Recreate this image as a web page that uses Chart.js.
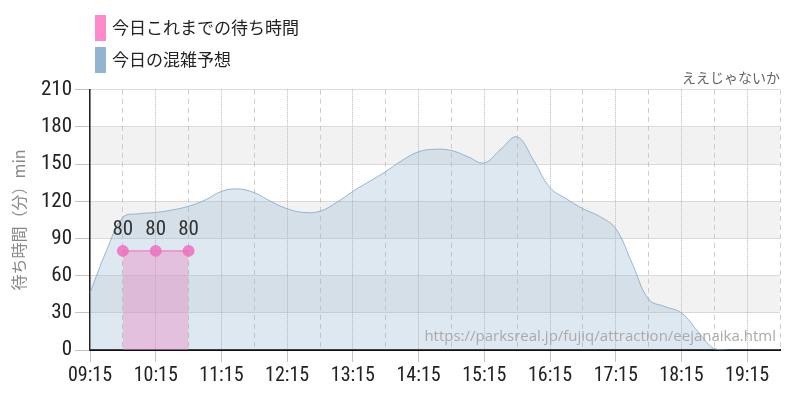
<!DOCTYPE html>
<html>
<head>
<meta charset="utf-8">
<script src="https://cdn.jsdelivr.net/npm/chart.js@4.4.0/dist/chart.umd.min.js"></script>
<style>
  html, body { margin: 0; padding: 0; background: #fff; }
  #wrap { width: 800px; height: 400px; }
</style>
</head>
<body>
<div id="wrap"><canvas id="chart"></canvas></div>
<script>
// 15 min steps, 09:15 - 19:45
const times = [
  '09:15','09:30','09:45','10:00','10:15','10:30','10:45','11:00',
  '11:15','11:30','11:45','12:00','12:15','12:30','12:45','13:00',
  '13:15','13:30','13:45','14:00','14:15','14:30','14:45','15:00',
  '15:15','15:30','15:45','16:00','16:15','16:30','16:45','17:00',
  '17:15','17:30','17:45','18:00','18:15','18:30','18:45','19:00',
  '19:15','19:30','19:45'
];
const forecast = [
  46, 80, 107, 110, 111, 113, 116, 121,
  128, 130, 127, 120, 114, 111, 112, 119,
  128, 136, 144, 153, 160, 162, 161, 156,
  151, 162, 172, 153, 131, 122, 114, 108,
  98, 70, 41, 35, 30, 15, 1, 0,
  0, 0, 0
];
const actual = [
  null, null, 80, null, 80, null, 80, null,
  null, null, null, null, null, null, null, null,
  null, null, null, null, null, null, null, null,
  null, null, null, null, null, null, null, null,
  null, null, null, null, null, null, null, null,
  null, null, null
];
const yTicks = [0, 30, 60, 90, 120, 150, 180, 210];
const bands = [[30, 60], [90, 120], [150, 180]];

const seriesNames = ['今日これまでの待ち時間', '今日の混雑予想'];
const legendColors = ['#ff8acb', '#92b4d0'];
const titleText = 'ええじゃないか';
const yTitle = '待ち時間（分）min';
const sourceText = 'https://parksreal.jp/fujiq/attraction/eejanaika.html';

const numFont = "'Roboto Condensed', 'Liberation Sans Narrow', 'DejaVu Sans Condensed', sans-serif";
const jpFont = "'Noto Sans CJK JP', sans-serif";

const bandsPlugin = {
  id: 'bands',
  beforeDraw(chart) {
    const {ctx, chartArea, scales} = chart;
    ctx.save();
    ctx.fillStyle = '#f2f2f2';
    bands.forEach(([a, b]) => {
      const y1 = scales.y.getPixelForValue(b);
      const y2 = scales.y.getPixelForValue(a);
      ctx.fillRect(chartArea.left, y1, chartArea.right - chartArea.left, y2 - y1);
    });
    ctx.restore();
  }
};

// stacked legend top-left (built-in legend won't wrap into a column here)
const stackLegend = {
  id: 'stackLegend',
  afterDraw(chart) {
    const {ctx} = chart;
    ctx.save();
    ctx.font = "17px " + jpFont;
    ctx.textAlign = 'left';
    ctx.textBaseline = 'middle';
    seriesNames.forEach((name, i) => {
      const top = 15 + i * 32;
      ctx.fillStyle = legendColors[i];
      ctx.fillRect(95, top, 11, 26);
      ctx.fillStyle = '#222';
      ctx.fillText(name, 112, top + 13);
    });
    ctx.restore();
  }
};

const labelsPlugin = {
  id: 'valueLabels',
  afterDatasetsDraw(chart) {
    const {ctx, chartArea} = chart;
    ctx.save();
    // source url
    ctx.font = "15px 'Open Sans', sans-serif";
    ctx.fillStyle = '#aaaaaa';
    ctx.textAlign = 'right';
    ctx.textBaseline = 'alphabetic';
    ctx.fillText(sourceText, chartArea.right - 4, chartArea.bottom - 9);
    // 80 labels above points
    const meta = chart.getDatasetMeta(0);
    ctx.font = '21px ' + numFont;
    ctx.fillStyle = '#333';
    ctx.textAlign = 'center';
    ctx.textBaseline = 'middle';
    meta.data.forEach((pt, i) => {
      const v = actual[i];
      if (v === null) return;
      ctx.fillText(String(v), pt.x, pt.y - 21);
    });
    ctx.restore();
  }
};

const hourTick = (i) => i % 4 === 0;
const halfTick = (i) => i % 4 === 2;

new Chart(document.getElementById('chart'), {
  type: 'line',
  data: {
    labels: times,
    datasets: [
      {
        label: seriesNames[0],
        data: actual,
        spanGaps: true,
        fill: 'origin',
        backgroundColor: 'rgba(233,135,192,0.42)',
        borderColor: '#f06cbf',
        borderWidth: 1,
        pointRadius: 6,
        pointBackgroundColor: 'rgba(240,110,190,0.85)',
        pointBorderWidth: 0,
        tension: 0
      },
      {
        label: seriesNames[1],
        data: forecast,
        fill: 'origin',
        backgroundColor: 'rgba(146,180,208,0.3)',
        borderColor: 'rgba(130,165,200,0.8)',
        borderWidth: 1,
        pointRadius: 0,
        tension: 0.4
      }
    ]
  },
  options: {
    responsive: true,
    maintainAspectRatio: false,
    animation: false,
    layout: { padding: { top: 69, right: 20, left: 0, bottom: 0 } },
    plugins: {
      legend: { display: false },
      title: {
        display: true,
        text: titleText,
        align: 'end',
        position: 'top',
        fullSize: false,
        color: '#666',
        font: { family: jpFont, size: 14, weight: 'normal' },
        padding: { top: 0, bottom: 4 }
      },
      tooltip: { enabled: false }
    },
    scales: {
      x: {
        type: 'category',
        offset: false,
        afterFit: (s) => { s.height = 50; },
        grid: {
          color: (c) => {
            if (c.type !== 'tick') return 'rgba(0,0,0,0)';
            if (hourTick(c.index)) return '#bbbbbb';
            if (halfTick(c.index)) return '#cccccc';
            return 'rgba(0,0,0,0)';
          },
          tickColor: (c) => (c.type === 'tick' && hourTick(c.index)) ? '#c4c4c4' : 'rgba(0,0,0,0)',
          tickLength: 12,
          lineWidth: 1
        },
        border: {
          display: true,
          color: '#111',
          width: 2,
          dash: (c) => {
            if (c.type !== 'tick') return [];
            return hourTick(c.index) ? [1, 1] : [5, 4];
          }
        },
        ticks: {
          autoSkip: false,
          maxRotation: 0,
          padding: 2,
          color: '#222',
          font: { family: numFont, size: 20 },
          callback: (v, i) => hourTick(i) ? times[i] : ''
        }
      },
      y: {
        min: 0,
        max: 210,
        afterFit: (s) => { s.width = 90; },
        afterBuildTicks: (s) => { s.ticks = yTicks.map(v => ({ value: v })); },
        grid: {
          color: '#bbbbbb',
          tickColor: '#c4c4c4',
          tickLength: 15,
          lineWidth: 1
        },
        border: {
          display: true,
          color: '#222',
          width: 1.5,
          dash: (c) => c.type === 'tick' ? [1, 1] : []
        },
        title: {
          display: true,
          text: yTitle,
          color: '#888',
          font: { family: jpFont, size: 16 },
          padding: { top: 9, bottom: 0 }
        },
        ticks: {
          padding: 3,
          color: '#222',
          font: { family: numFont, size: 21 }
        }
      }
    }
  },
  plugins: [bandsPlugin, stackLegend, labelsPlugin]
});
</script>
</body>
</html>
